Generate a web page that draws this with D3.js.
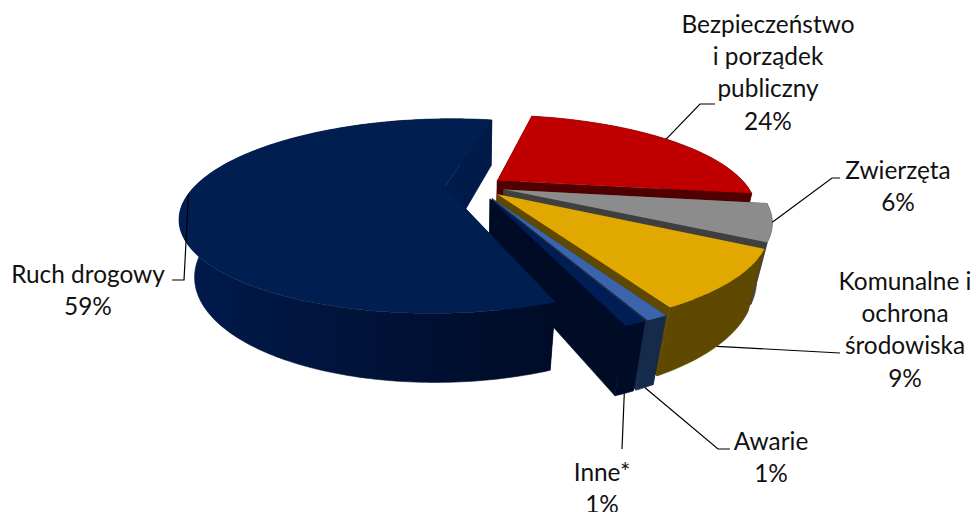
<!DOCTYPE html>
<html>
<head>
<meta charset="utf-8">
<script src="https://cdn.jsdelivr.net/npm/d3@7"></script>
<style>
html,body{margin:0;padding:0;background:#fff;overflow:hidden}
text{font-family:Lato,"Open Sans",sans-serif;fill:#111}
</style>
</head>
<body>
<div id="chart"></div>
<script>
var categories=['Ruch drogowy','Bezpieczeństwo i porządek publiczny','Zwierzęta','Komunalne i ochrona środowiska','Awarie','Inne*'];
var values=[59,24,6,9,1,1];
var valueLabels=['59%','24%','6%','9%','1%','1%'];

var topColors=['#001e50','#c00000','#8c8c8c','#e0a800','#3c64aa','#001d55'];
var faceColors=['#001a4a','#500000','#3f3f3f','#5f4800','#162a4a','#000c26'];
var rimColors=['url(#rimShade)','#500000','#3f3f3f','#5f4800','#162a4a','#000c26'];
var explodeBy=[0.12,0.11,0.12,0.125,0.15,0.15];

// where the label text sits, line by line, and the bend of the leader
var labelLayout=[
	{lines:['Ruch drogowy'],x:88,y:274,elbow:[[184,280],[172,280]],anchorZ:0},
	{lines:['Bezpieczeństwo','i porządek','publiczny'],x:768,y:24,elbow:[[700,104],[715,104]],anchorZ:0},
	{lines:['Zwierzęta'],x:898,y:170,elbow:[[832,178],[840,178]],anchorZ:0},
	{lines:['Komunalne i','ochrona','środowiska'],x:905,y:281,elbow:[[840,353]],anchorZ:-1},
	{lines:['Awarie'],x:771,y:441,elbow:[[718,449],[730,449]],anchorZ:-1},
	{lines:['Inne*'],x:602,y:472,elbow:[[622,449]],anchorZ:-1}
];

var w=976,h=512,lineGap=32.4;
var cx=475,cy=186,rx=250,ry=88,wall=58;
var persp=0.3,perspZ=0.05;

var rad=function(deg){return deg*Math.PI/180;};

// perspective view of a point on the unit pie, z=0 top face, z=-1 bottom face
function project(x,y,z){
	var s=1/(1+persp*y-perspZ*z);
	return [cx+rx*x*s,cy-(ry*y+wall*z)*s];
}

function rimPoint(d,a,z){
	var mid=(d.startAngle+d.endAngle)/2,e=explodeBy[d.index];
	return project(Math.sin(a)+e*Math.sin(mid),Math.cos(a)+e*Math.cos(mid),z);
}
function apex(d,z){
	var mid=(d.startAngle+d.endAngle)/2,e=explodeBy[d.index];
	return project(e*Math.sin(mid),e*Math.cos(mid),z);
}
function sweep(d){
	var n=Math.max(4,Math.ceil((d.endAngle-d.startAngle)/rad(1)));
	return d3.range(n+1).map(function(i){return d.startAngle+(d.endAngle-d.startAngle)*i/n;});
}

var line=d3.line();
var pie=d3.pie().sort(null).startAngle(rad(159.5)).endAngle(rad(519.5));
var slices=pie(values);

var svg=d3.select('#chart').append('svg')
	.attr('width',w).attr('height',h)
	.style('display','block');

var grad=svg.append('defs').append('linearGradient')
	.attr('id','rimShade')
	.attr('gradientUnits','userSpaceOnUse')
	.attr('x1',190).attr('x2',550).attr('y1',0).attr('y2',0);
grad.append('stop').attr('offset','0%').attr('stop-color','#001a4b');
grad.append('stop').attr('offset','45%').attr('stop-color','#00133a');
grad.append('stop').attr('offset','100%').attr('stop-color','#000c27');

var g=svg.selectAll('g.slice').data(slices).enter().append('g').attr('class','slice');

// start face under the wall, end face over it, top goes last
g.append('path').attr('fill',function(d,i){return faceColors[i];})
	.attr('d',function(d){
		return line([apex(d,0),rimPoint(d,d.startAngle,0),rimPoint(d,d.startAngle,-1),apex(d,-1)])+'Z';
	});
g.append('path').attr('fill',function(d,i){return rimColors[i];})
	.attr('stroke',function(d,i){return rimColors[i];}).attr('stroke-width',0.6)
	.attr('d',function(d){
		var a=sweep(d);
		var upper=a.map(function(t){return rimPoint(d,t,0);});
		var lower=a.slice().reverse().map(function(t){return rimPoint(d,t,-1);});
		return line(upper.concat(lower))+'Z';
	});
g.append('path').attr('fill',function(d,i){return faceColors[i];})
	.attr('stroke',function(d,i){return faceColors[i];}).attr('stroke-width',0.6)
	.attr('d',function(d){
		return line([apex(d,0),rimPoint(d,d.endAngle,0),rimPoint(d,d.endAngle,-1),apex(d,-1)])+'Z';
	});
g.append('path').attr('fill',function(d,i){return topColors[i];})
	.attr('d',function(d){
		var pts=sweep(d).map(function(t){return rimPoint(d,t,0);});
		return line([apex(d,0)].concat(pts))+'Z';
	});

// the big slice sits over the inner face of the small ones
g.filter(function(d,i){return i===0;}).raise();

// leaders start on the rim at the middle of each slice
svg.selectAll('path.leader').data(slices).enter().append('path')
	.attr('class','leader')
	.attr('fill','none').attr('stroke','#000').attr('stroke-width',1.2)
	.attr('d',function(d,i){
		var mid=(d.startAngle+d.endAngle)/2;
		return line([rimPoint(d,mid,labelLayout[i].anchorZ)].concat(labelLayout[i].elbow));
	});

var labels=svg.selectAll('text').data(categories).enter().append('text')
	.attr('text-anchor','middle')
	.attr('font-size',24.4);
labels.each(function(d,i){
	var t=d3.select(this),l=labelLayout[i];
	l.lines.concat([valueLabels[i]]).forEach(function(s,k){
		t.append('tspan').attr('x',l.x).attr('y',l.y+k*lineGap).attr('dy','0.35em').text(s);
	});
});
</script>
</body>
</html>
